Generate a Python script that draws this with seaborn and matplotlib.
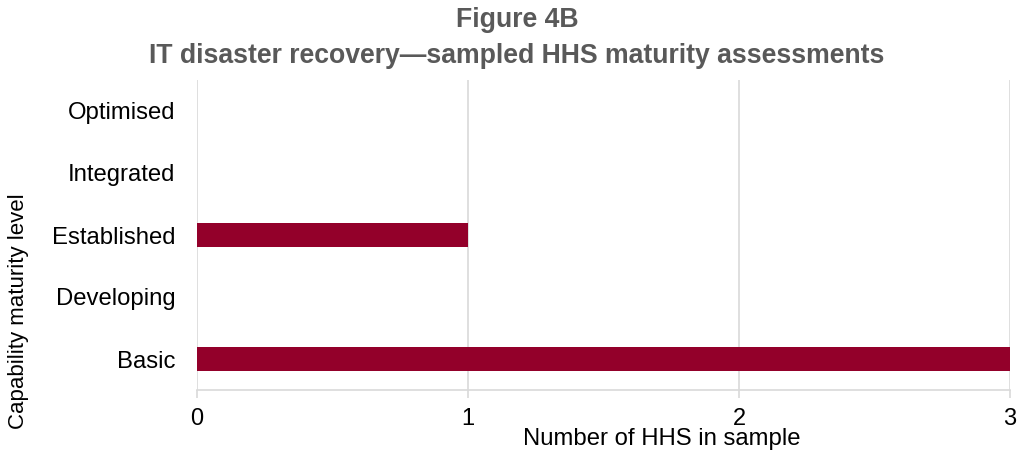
import matplotlib
matplotlib.use("Agg")
import matplotlib.pyplot as plt
import seaborn as sns
import pandas as pd

# Capability maturity levels (top to bottom) and number of HHS at each level
levels = ["Optimised", "Integrated", "Established", "Developing", "Basic"]
counts = [0, 0, 1, 0, 3]
x_ticks = [0, 1, 2, 3]

df = pd.DataFrame({"level": levels, "count": counts})

sns.set_theme(style="white")
plt.rcParams["font.family"] = ["Liberation Sans", "DejaVu Sans"]

fig = plt.figure(figsize=(10.19, 4.5), dpi=100)
ax = fig.add_axes([197 / 1019, 1 - 390 / 450, (1010 - 197) / 1019, (390 - 80) / 450])

sns.barplot(data=df, x="count", y="level", order=levels, color="#93002A",
            width=0.39, saturation=1, linewidth=0, ax=ax, zorder=3)

ax.set_xlim(0, 3)
ax.set_ylim(4.5, -0.5)
ax.set_xticks(x_ticks)
ax.set_xticklabels([str(t) for t in x_ticks])
ax.xaxis.grid(True, color="#d9d9d9", linewidth=1.2, zorder=0)
ax.yaxis.grid(False)

for side in ["top", "right", "left"]:
    ax.spines[side].set_visible(False)
ax.spines["bottom"].set_color("#d9d9d9")
ax.spines["bottom"].set_linewidth(1.2)

ax.tick_params(axis="x", which="both", bottom=True, length=6, width=1.2,
               color="#d9d9d9", labelsize=17, labelcolor="black", pad=7)
ax.tick_params(axis="y", left=False, labelsize=17.2, labelcolor="black", pad=9.5)

ax.set_xlabel("Number of HHS in sample", fontsize=17.2, color="black")
ax.xaxis.set_label_coords((662 - 197) / 813, -(428 - 390) / 310)
ax.xaxis.label.set_va("top")
ax.set_ylabel("")
fig.text(19 / 1019, 1 - 311 / 450, "Capability maturity level", rotation=90,
         fontsize=16, color="black", ha="center", va="center")

fig.text(517 / 1019, 1 - 20 / 450, "Figure 4B", fontsize=19.2, fontweight="bold",
         color="#595959", ha="center", va="center")
fig.text(517 / 1019, 1 - 56 / 450,
         "IT disaster recovery\u2014sampled HHS maturity assessments",
         fontsize=19.2, fontweight="bold", color="#595959", ha="center", va="center")

fig.savefig("out.png", dpi=100)
